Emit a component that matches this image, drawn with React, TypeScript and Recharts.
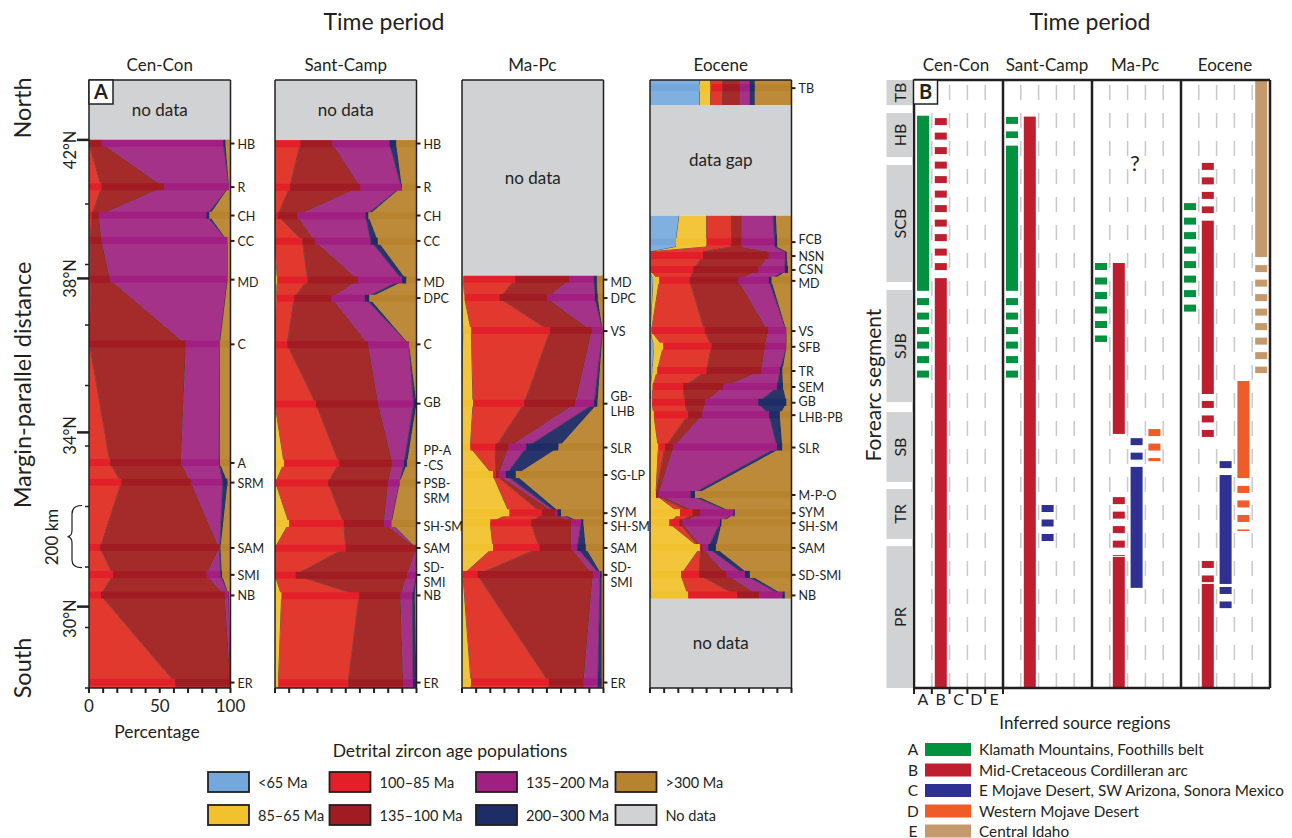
import React from 'react';
import { ComposedChart, Area, Bar, XAxis, YAxis, ReferenceArea, ReferenceLine } from 'recharts';

const FONT = 'Lato, "Open Sans", sans-serif';
const INK = '#231f20';
const GRAY = '#d1d2d4';

const KM_MAX = 2010;
const PLOT_TOP = 80;
const PLOT_BOTTOM = 688;
const CHART_H = 838;
const PX_PER_KM = (PLOT_BOTTOM - PLOT_TOP) / KM_MAX;

// detrital zircon age populations, stacked left to right
const ageLabels = ['<65 Ma', '85–65 Ma', '100–85 Ma', '135–100 Ma', '135–200 Ma', '200–300 Ma', '>300 Ma'];
const ageFill = ['#80b0df', '#f3c53b', '#e2392f', '#a52b2a', '#a43288', '#28356b', '#bd8a3a'];
const ageStripe = ['#74a8dd', '#f2c12e', '#e3202a', '#a11c22', '#a01f80', '#1f2d66', '#b8832f'];

const periods = ['Cen-Con', 'Sant-Camp', 'Ma-Pc', 'Eocene'];

// rows: site (blank = edge of record), km along margin from south end, % per age population
type Row = { site: string; km: number; v: number[] | null };

const cenConRows: Row[] = [
  { site: '', km: 1811, v: [0, 0, 0, 9, 86, 1.5, 3.5] },
  { site: 'HB', km: 1800, v: [0, 0, 0, 9, 86, 1.5, 3.5] },
  { site: 'R', km: 1656, v: [0, 0, 9, 44, 46, 0, 1] },
  { site: 'CH', km: 1562, v: [0, 0, 2, 5, 76, 2, 15] },
  { site: 'CC', km: 1478, v: [0, 0, 1, 8, 89, 0, 2] },
  { site: 'MD', km: 1350, v: [0, 0, 1, 14, 83, 0, 2] },
  { site: 'C', km: 1136, v: [0, 0, 0.5, 68, 24, 0, 7.5] },
  { site: 'A', km: 744, v: [0, 0, 15, 50, 27, 0.5, 7.5] },
  { site: 'SRM', km: 679, v: [0, 0, 23, 49, 22.5, 3.5, 2] },
  { site: 'SAM', km: 463, v: [0, 0, 8, 84, 0.5, 0.5, 7] },
  { site: 'SMI', km: 374, v: [0, 0, 17, 66, 10, 1, 6] },
  { site: 'NB', km: 306, v: [0, 0, 8.5, 87.5, 3, 0, 1] },
  { site: 'ER', km: 18, v: [0, 0, 61, 39, 0, 0, 0] },
  { site: '', km: 0, v: [0, 0, 61, 39, 0, 0, 0] },
];

const santCampRows: Row[] = [
  { site: '', km: 1811, v: [0, 0, 18, 22.5, 40.5, 4.7, 14.3] },
  { site: 'HB', km: 1800, v: [0, 0, 18, 22.5, 40.5, 4.7, 14.3] },
  { site: 'R', km: 1656, v: [0, 0, 10.5, 50, 28.7, 0.5, 10.3] },
  { site: 'CH', km: 1562, v: [0, 0, 2, 13.5, 48.5, 2, 34] },
  { site: 'CC', km: 1478, v: [0, 0, 19.5, 8.7, 39.5, 5, 27.3] },
  { site: 'MD', km: 1350, v: [0, 1.6, 21.5, 35.7, 31.1, 3, 7.1] },
  { site: 'DPC', km: 1289, v: [0, 1, 12.6, 26.4, 23.5, 3.1, 33.4] },
  { site: 'C', km: 1136, v: [0, 0, 8.7, 57.2, 28.9, 0, 5.2] },
  { site: 'GB', km: 940, v: [0, 0, 29, 44, 25, 2, 0] },
  { site: 'PP-A\n-CS', km: 744, v: [0, 6.4, 39, 37.6, 8.3, 2.1, 6.6] },
  { site: 'PSB-\nSRM', km: 679, v: [0, 0.5, 37.1, 42.4, 8.2, 0, 11.8] },
  { site: 'SH-SM', km: 545, v: [0, 10, 38.7, 28.3, 5.4, 0, 17.6] },
  { site: 'SAM', km: 463, v: [0, 0, 50, 50, 0, 0, 0] },
  { site: 'SD-\nSMI', km: 374, v: [0, 0, 14.6, 78.8, 6.6, 0, 0] },
  { site: 'NB', km: 306, v: [0, 4.7, 54.8, 29.2, 8.5, 1.6, 1.2] },
  { site: 'ER', km: 18, v: [0, 2.4, 49.4, 38.8, 7, 2.4, 0] },
  { site: '', km: 0, v: [0, 2.4, 49.4, 38.8, 7, 2.4, 0] },
];

const maPcRows: Row[] = [
  { site: '', km: 1360, v: [0, 1, 36.6, 38.4, 17.4, 1.9, 4.7] },
  { site: 'MD', km: 1350, v: [0, 1, 36.6, 38.4, 17.4, 1.9, 4.7] },
  { site: 'DPC', km: 1289, v: [0, 1.9, 24.7, 33.4, 34, 2, 4] },
  { site: 'VS', km: 1180, v: [1, 5.6, 55.8, 29.4, 7.7, 0, 0.5] },
  { site: 'GB-\nLHB', km: 940, v: [0, 7.8, 36.2, 36, 13.4, 2.4, 4.2] },
  { site: 'SLR', km: 795, v: [0, 5.9, 17.6, 9.4, 12.5, 22.8, 31.8] },
  { site: 'SG-LP', km: 704, v: [0, 21.9, 2.1, 1.9, 5.1, 7, 62] },
  { site: 'SYM', km: 578, v: [0, 33.6, 22.9, 9.4, 1.6, 2.5, 30] },
  { site: 'SH-SM', km: 545, v: [0, 20, 28.9, 28.3, 7, 1.7, 14.1] },
  { site: 'SAM', km: 463, v: [0, 21.9, 32.9, 22.4, 4.4, 5.9, 12.5] },
  { site: 'SD-\nSMI', km: 374, v: [0, 0.7, 10.3, 81.5, 5.1, 1.2, 1.2] },
  { site: 'ER', km: 18, v: [0, 6.4, 55.2, 24.3, 10.1, 2.8, 1.2] },
  { site: '', km: 0, v: [0, 6.4, 55.2, 24.3, 10.1, 2.8, 1.2] },
];

const eoceneRows: Row[] = [
  { site: '', km: 2010, v: [35.3, 7.5, 8.5, 12.2, 7.1, 3.5, 25.9] },
  { site: 'TB', km: 1983, v: [35.3, 7.5, 8.5, 12.2, 7.1, 3.5, 25.9] },
  { site: '', km: 1927, v: [35.3, 7.5, 8.5, 12.2, 7.1, 3.5, 25.9] },
  { site: '', km: 1750, v: null },
  { site: '', km: 1561, v: [20.7, 19.3, 17.6, 7.1, 22.3, 2, 11] },
  { site: 'FCB', km: 1474, v: [18.4, 21.6, 17.6, 7.1, 23.5, 1.8, 10] },
  { site: '', km: 1458, v: [18.4, 21.6, 17.6, 7.1, 23.5, 1.8, 10] },
  { site: '', km: 1442, v: [0.5, 0, 37, 46.4, 11.8, 1, 3.3] },
  { site: 'NSN', km: 1428, v: [0.5, 0, 37, 46.4, 11.8, 1, 3.3] },
  { site: 'CSN', km: 1382, v: [0, 0, 30.6, 45.9, 18.8, 2.3, 2.4] },
  { site: 'MD', km: 1346, v: [2.4, 4.2, 21.6, 34.2, 21.6, 1.9, 14.1] },
  { site: 'VS', km: 1180, v: [0.5, 0.5, 37.8, 44.7, 13, 0, 3.5] },
  { site: 'SFB', km: 1128, v: [2.8, 6.6, 34.1, 37.7, 15.3, 0, 3.5] },
  { site: 'TR', km: 1048, v: [1.9, 3.3, 34.8, 38.8, 13, 1.8, 6.4] },
  { site: 'SEM', km: 995, v: [0.5, 1.4, 21.6, 28.3, 38.1, 4.2, 5.9] },
  { site: 'GB', km: 943, v: [0.5, 1, 23.2, 14.1, 37.7, 20, 3.5] },
  { site: 'LHB-PB', km: 902, v: [0, 2.8, 24.2, 9.9, 47.3, 7.6, 8.2] },
  { site: 'SLR', km: 795, v: [0, 5.9, 4.7, 5.9, 73.4, 3.7, 6.4] },
  { site: 'M-P-O', km: 638, v: [0, 4.2, 0, 1.7, 22.8, 3.1, 68.2] },
  { site: 'SYM', km: 578, v: [0, 21.2, 8.9, 5.2, 23.5, 1.2, 40] },
  { site: 'SH-SM', km: 545, v: [0, 13.6, 7.1, 2.3, 26.4, 1.2, 49.4] },
  { site: 'SAM', km: 463, v: [0, 35.3, 0.5, 1.4, 4, 5.4, 53.4] },
  { site: 'SD-SMI', km: 374, v: [0, 21.9, 12.9, 19.3, 13, 3.5, 29.4] },
  { site: 'NB', km: 306, v: [1, 26, 34.6, 15.6, 16.4, 1.7, 4.7] },
  { site: '', km: 297.5, v: [1, 26, 34.6, 15.6, 16.4, 1.7, 4.7] },
];

type Blank = { from: number; to: number; text: string };
const cenConBlanks: Blank[] = [{ from: 1811, to: 2010, text: 'no data' }];
const santCampBlanks: Blank[] = [{ from: 1811, to: 2010, text: 'no data' }];
const maPcBlanks: Blank[] = [{ from: 1360, to: 2010, text: 'no data' }];
const eoceneBlanks: Blank[] = [
  { from: 1561, to: 1927, text: 'data gap' },
  { from: 0, to: 297.5, text: 'no data' },
];

// latitude marks on the distance axis
const latKm = [1812, 1354, 845, 269];
const latNames = ['42°N', '38°N', '34°N', '30°N'];
const minorKm = [0, 200, 400, 600, 800, 1000, 1200, 1400, 1600];
const pctTicks = [0, 10, 20, 30, 40, 50, 60, 70, 80, 90, 100];

// panel B: forearc segments
const segNames = ['TB', 'HB', 'SCB', 'SJB', 'SB', 'TR', 'PR'];
const segTopKm = [2010, 1901, 1729, 1316, 912, 658, 469];
const segBottomKm = [1927, 1755, 1342, 945, 681, 493, 0];

// inferred source regions
const sourceCodes = ['A', 'B', 'C', 'D', 'E'];
const sourceNames = [
  'Klamath Mountains, Foothills belt',
  'Mid-Cretaceous Cordilleran arc',
  'E Mojave Desert, SW Arizona, Sonora Mexico',
  'Western Mojave Desert',
  'Central Idaho',
];
const sourceColors = ['#00923f', '#be1e2d', '#2e3192', '#f15a29', '#c49a6c'];

// spans per period, per source: [top km, bottom km, style]
type Span = [number, number, 'solid' | 'dashed'];
const cenConSpans: Span[][] = [
  [[1892, 1313, 'solid'], [1289, 1025, 'dashed']],
  [[1884, 1380, 'dashed'], [1355, 0, 'solid']],
  [],
  [],
  [],
];
const santCampSpans: Span[][] = [
  [[1888, 1818, 'dashed'], [1793, 1313, 'solid'], [1289, 1025, 'dashed']],
  [[1889, 0, 'solid']],
  [[605, 486, 'dashed']],
  [],
  [],
];
const maPcSpans: Span[][] = [
  [[1405, 1144, 'dashed']],
  [[1405, 840, 'solid'], [631, 436, 'dashed'], [433, 0, 'solid']],
  [[826, 750, 'dashed'], [731, 331, 'solid']],
  [[856, 750, 'dashed']],
  [],
];
const eoceneSpans: Span[][] = [
  [[1603, 1243, 'dashed']],
  [[1736, 1570, 'dashed'], [1545, 972, 'solid'], [949, 830, 'dashed'], [420, 350, 'dashed'], [344, 0, 'solid']],
  [[750, 727, 'dashed'], [704, 344, 'solid'], [334, 264, 'dashed']],
  [[1015, 694, 'solid'], [668, 519, 'dashed']],
  [[2007, 1425, 'solid'], [1398, 1041, 'dashed']],
];

const PLOT_W = 141.5;
const panelLefts = [89, 275, 461.5, 650];

// small vertical nudges so crowded site names don't collide
function labelNudge(text: string) {
  if (text === 'SH-SM') return 3;
  if (text === 'SYM') return -1.5;
  if (text === 'FCB') return -3;
  if (text === 'CSN') return -0.5;
  if (text === 'MD') return 2;
  if (text === 'GB') return -1.5;
  if (text === 'LHB-PB') return 1.5;
  return 0;
}

function SiteTick(props: any) {
  const { x, y, payload, labels } = props;
  const text: string = labels.get(payload.value) ?? '';
  const lines = text.split('\n');
  let first = labelNudge(text);
  if (lines.length > 1) first = text === 'PP-A\n-CS' ? -13 : text === 'PSB-\nSRM' ? 0 : -8;
  return (
    <g>
      <line x1={x} x2={x + 4} y1={y} y2={y} stroke={INK} strokeWidth={2} />
      <text x={x + 7} y={y} fontSize={12.5} fill={INK} fontFamily={FONT} dominantBaseline="central">
        {lines.map((l, i) => (
          <tspan key={i} x={x + 7} dy={i === 0 ? first : 15}>{l}</tspan>
        ))}
      </text>
    </g>
  );
}

function LatTick(props: any) {
  const { x, y, payload } = props;
  const i = latKm.indexOf(payload.value);
  if (i < 0) return <line x1={x - 4} x2={x} y1={y} y2={y} stroke={INK} strokeWidth={1.5} />;
  const shift = [10, 0, 3, 12][i];
  return (
    <g>
      <line x1={x - 12} x2={x} y1={y} y2={y} stroke={INK} strokeWidth={2.5} />
      <text
        transform={`translate(${x - 19},${y + shift}) rotate(-90)`}
        textAnchor="middle"
        dominantBaseline="central"
        fontSize={16.5}
        fill={INK}
        fontFamily={FONT}
      >
        {latNames[i]}
      </text>
    </g>
  );
}

function ZirconPanel({ index, rows, blanks }: { index: number; rows: Row[]; blanks: Blank[] }) {
  const left = panelLefts[index] - 80;
  const width = 80 + PLOT_W + 70;
  const areaData = rows.map((r) => {
    const d: any = { km: r.km };
    ageLabels.forEach((_, i) => {
      d[`a${i}`] = r.v ? r.v[i] : null;
    });
    return d;
  });
  const sites = rows.filter((r) => r.site);
  const stripeData = sites.map((r) => {
    const d: any = { km: r.km };
    (r.v || []).forEach((val, i) => {
      d[`s${i}`] = val;
    });
    return d;
  });
  const labels = new Map(sites.map((r) => [r.km, r.site]));
  const first = index === 0;

  return (
    <>
      <div style={{ position: 'absolute', left, top: 0 }}>
        <ComposedChart
          layout="vertical"
          width={width}
          height={CHART_H}
          data={areaData}
          margin={{ top: PLOT_TOP, left: 80, right: 70, bottom: CHART_H - PLOT_BOTTOM }}
        >
          <XAxis hide type="number" domain={[0, 100]} allowDataOverflow />
          <YAxis hide type="number" dataKey="km" domain={[0, KM_MAX]} reversed allowDataOverflow />
          {blanks.map((b) => (
            <ReferenceArea
              key={b.from}
              y1={b.from}
              y2={b.to}
              x1={0}
              x2={100}
              fill={GRAY}
              fillOpacity={1}
              stroke="none"
              label={{ value: b.text, position: 'center', fill: INK, fontSize: 17, fontFamily: FONT }}
            />
          ))}
          {ageLabels.map((name, i) => (
            <Area
              key={name}
              name={name}
              dataKey={`a${i}`}
              stackId="a"
              type="linear"
              fill={ageFill[i]}
              fillOpacity={1}
              stroke="#3a3a3a"
              strokeWidth={0.8}
              dot={false}
              activeDot={false}
              isAnimationActive={false}
            />
          ))}
        </ComposedChart>
      </div>
      <div style={{ position: 'absolute', left, top: 0 }}>
        <ComposedChart
          layout="vertical"
          width={width}
          height={CHART_H}
          data={stripeData}
          margin={{ top: PLOT_TOP, left: 0, right: 0, bottom: 0 }}
        >
          <XAxis
            type="number"
            domain={[0, 100]}
            allowDataOverflow
            ticks={pctTicks}
            interval={0}
            height={CHART_H - PLOT_BOTTOM}
            tickSize={5}
            tickMargin={7}
            axisLine={{ stroke: INK, strokeWidth: 1.5 }}
            tickLine={{ stroke: INK, strokeWidth: 2 }}
            tick={{ fontSize: 17, fill: INK, fontFamily: FONT }}
            tickFormatter={(v) => (first && v % 50 === 0 ? String(v) : '')}
          />
          <YAxis
            yAxisId="lat"
            orientation="left"
            width={80}
            type="number"
            dataKey="km"
            domain={[0, KM_MAX]}
            reversed
            allowDataOverflow
            ticks={first ? [...minorKm, ...latKm] : undefined}
            interval={0}
            tickSize={0}
            tickMargin={0}
            tickLine={false}
            axisLine={{ stroke: INK, strokeWidth: 1.5 }}
            tick={first ? (p: any) => <LatTick {...p} /> : false}
          />
          <YAxis
            yAxisId="site"
            orientation="right"
            width={70}
            type="number"
            dataKey="km"
            domain={[0, KM_MAX]}
            reversed
            allowDataOverflow
            ticks={sites.map((r) => r.km)}
            interval={0}
            tickSize={0}
            tickMargin={0}
            tickLine={false}
            axisLine={{ stroke: INK, strokeWidth: 1.5 }}
            tick={(p: any) => <SiteTick {...p} labels={labels} />}
          />
          {ageLabels.map((name, i) => (
            <Bar
              key={name}
              yAxisId="site"
              dataKey={`s${i}`}
              stackId="s"
              fill={ageStripe[i]}
              barSize={7}
              isAnimationActive={false}
            />
          ))}
          <ReferenceLine yAxisId="site" y={KM_MAX} stroke={INK} strokeWidth={1.5} />
        </ComposedChart>
      </div>
    </>
  );
}

function SourceShape(props: any) {
  const { x, y, width, height, payload, level } = props;
  const style = payload[`t${level}`];
  const color = payload.color;
  if (!style || style === 'gap' || !(height > 0)) return <g />;
  if (style === 'solid') return <rect x={x} y={y} width={width} height={height} fill={color} />;
  const dashes = [];
  for (let yy = y; yy < y + height - 0.5; yy += 14.5) {
    dashes.push(<rect key={yy} x={x} y={yy} width={width} height={Math.min(7, y + height - yy)} fill={color} />);
  }
  return <g>{dashes}</g>;
}

function SegmentTick(props: any) {
  const { x, y, payload } = props;
  const i = segNames.findIndex((_, k) => (segTopKm[k] + segBottomKm[k]) / 2 === payload.value);
  if (i < 0) return <g />;
  const h = (segTopKm[i] - segBottomKm[i]) * PX_PER_KM;
  return (
    <g>
      <rect x={x - 27.5} y={y - h / 2} width={26} height={h} fill={GRAY} />
      <text
        transform={`translate(${x - 14.5},${y}) rotate(-90)`}
        textAnchor="middle"
        dominantBaseline="central"
        fontSize={16}
        fill={INK}
        fontFamily={FONT}
      >
        {segNames[i]}
      </text>
    </g>
  );
}

function SourceAxisTick(props: any) {
  const { x, y, payload } = props;
  const v = payload.value;
  if (Number.isInteger(v)) return <line x1={x} x2={x} y1={y} y2={y + 6} stroke={INK} strokeWidth={2} />;
  return (
    <text x={x} y={y + 17} textAnchor="middle" fontSize={16} fill={INK} fontFamily={FONT}>
      {sourceCodes[Math.floor(v)]}
    </text>
  );
}

function SourcePanel() {
  const periodSpans = [cenConSpans, santCampSpans, maPcSpans, eoceneSpans];
  const rows = periodSpans.flatMap((spans, p) =>
    spans.map((list, s) => {
      const row: any = { x: p * 5 + s + 0.5, color: sourceColors[s] };
      let level = 0;
      let cursor = 0;
      [...list]
        .sort((a, b) => a[1] - b[1])
        .forEach(([top, bottom, style]) => {
          row[`l${level}`] = bottom - cursor;
          row[`t${level}`] = 'gap';
          level++;
          row[`l${level}`] = top - bottom;
          row[`t${level}`] = style;
          level++;
          cursor = top;
        });
      return row;
    }),
  );
  const levels = [0, 1, 2, 3, 4, 5, 6, 7, 8, 9];
  const segMid = segNames.map((_, k) => (segTopKm[k] + segBottomKm[k]) / 2);
  const subLines = Array.from({ length: 19 }, (_, k) => k + 1).filter((k) => k % 5 !== 0);
  const periodLines = [5, 10, 15];
  return (
    <div style={{ position: 'absolute', left: 913.5 - 40, top: 0 }}>
      <ComposedChart
        width={408}
        height={CHART_H}
        data={rows}
        margin={{ top: PLOT_TOP, right: 12, left: 0, bottom: 0 }}
      >
        <XAxis
          type="number"
          dataKey="x"
          domain={[0, 20]}
          allowDataOverflow
          ticks={[0, 0.5, 1, 1.5, 2, 2.5, 3, 3.5, 4, 4.5, 5]}
          interval={0}
          height={CHART_H - PLOT_BOTTOM}
          tickSize={0}
          tickMargin={0}
          tickLine={false}
          axisLine={{ stroke: INK, strokeWidth: 2.5 }}
          tick={(p: any) => <SourceAxisTick {...p} />}
        />
        <YAxis
          type="number"
          domain={[0, KM_MAX]}
          allowDataOverflow
          ticks={segMid}
          interval={0}
          width={40}
          tickSize={0}
          tickMargin={0}
          tickLine={false}
          axisLine={{ stroke: INK, strokeWidth: 2.5 }}
          tick={(p: any) => <SegmentTick {...p} />}
        />
        {subLines.map((k) => (
          <ReferenceLine key={k} x={k} stroke="#c9c9c9" strokeWidth={1.5} strokeDasharray="15 13" />
        ))}
        {levels.map((k) => (
          <Bar
            key={k}
            dataKey={`l${k}`}
            stackId="b"
            barSize={12}
            isAnimationActive={false}
            shape={(p: any) => <SourceShape {...p} level={k} />}
          />
        ))}
        {periodLines.map((k) => (
          <ReferenceLine key={k} x={k} stroke={INK} strokeWidth={2.5} />
        ))}
        <ReferenceLine x={20} stroke={INK} strokeWidth={2.5} />
        <ReferenceLine y={KM_MAX} stroke={INK} strokeWidth={2.5} />
      </ComposedChart>
    </div>
  );
}

function Overlay() {
  const txt = { fill: INK, fontFamily: FONT } as const;
  const ageLegend = [...ageLabels, 'No data'];
  const ageLegendColors = [...ageStripe, GRAY];
  const legendX = [208, 329.5, 476, 615.5];
  const legendY = [772, 805];
  const bHeaders = [956, 1047, 1135, 1225];
  const srcY = [749.5, 770, 790.5, 811, 831];
  return (
    <svg width={1292} height={838} style={{ position: 'absolute', left: 0, top: 0, pointerEvents: 'none' }}>
      <text x={384} y={30} textAnchor="middle" fontSize={23} {...txt}>Time period</text>
      <text x={1090} y={30} textAnchor="middle" fontSize={23} {...txt}>Time period</text>
      {periods.map((p, i) => (
        <text key={p} x={panelLefts[i] + PLOT_W / 2} y={71} textAnchor="middle" fontSize={17} {...txt}>{p}</text>
      ))}
      {periods.map((p, i) => (
        <text key={p + 'b'} x={bHeaders[i]} y={71} textAnchor="middle" fontSize={17} {...txt}>{p}</text>
      ))}
      {[
        ['North', 108],
        ['Margin-parallel distance', 385],
        ['South', 668],
      ].map(([t, cy]) => (
        <text
          key={t as string}
          transform={`translate(22,${cy}) rotate(-90)`}
          textAnchor="middle"
          dominantBaseline="central"
          fontSize={23.5}
          {...txt}
        >
          {t}
        </text>
      ))}
      <text transform="translate(872,385) rotate(-90)" textAnchor="middle" dominantBaseline="central" fontSize={21} {...txt}>
        Forearc segment
      </text>
      <text transform="translate(51,537) rotate(-90)" textAnchor="middle" dominantBaseline="central" fontSize={17} {...txt}>
        200 km
      </text>
      <path
        d="M82,505.5 C75,505.5 72,508 72,514 L72,530 C72,534 70,536.5 67.5,536.7 C70,537 72,539.5 72,543 L72,560 C72,565.5 75,567.7 82,567.7"
        fill="none"
        stroke={INK}
        strokeWidth={1.2}
      />
      <text x={157} y={738} textAnchor="middle" fontSize={17.5} {...txt}>Percentage</text>

      <rect x={89} y={80} width={24} height={24} fill="#fff" stroke={INK} strokeWidth={1.5} />
      <text x={101} y={99} textAnchor="middle" fontSize={20} fontWeight={700} {...txt}>A</text>
      <rect x={913.5} y={80} width={24} height={24} fill="#fff" stroke={INK} strokeWidth={1.5} />
      <text x={925.5} y={99} textAnchor="middle" fontSize={20} fontWeight={700} {...txt}>B</text>
      <text x={1135} y={171} textAnchor="middle" fontSize={22} {...txt}>?</text>

      <text x={450} y={757} textAnchor="middle" fontSize={17.5} {...txt}>Detrital zircon age populations</text>
      {ageLegend.map((name, i) => {
        const col = Math.floor(i / 2);
        const row = i % 2;
        return (
          <g key={name}>
            <rect x={legendX[col]} y={legendY[row]} width={41} height={20} fill={ageLegendColors[i]} stroke={INK} strokeWidth={1.8} />
            <text x={legendX[col] + 50} y={legendY[row] + 15.5} fontSize={14.5} {...txt}>{name}</text>
          </g>
        );
      })}

      <text x={1085} y={729} textAnchor="middle" fontSize={17} {...txt}>Inferred source regions</text>
      {sourceNames.map((name, i) => (
        <g key={name}>
          <text x={913} y={srcY[i] + 5.5} textAnchor="middle" fontSize={15.5} {...txt}>{sourceCodes[i]}</text>
          <rect x={925} y={srcY[i] - 6.5} width={46} height={13} fill={sourceColors[i]} />
          <text x={979} y={srcY[i] + 5.5} fontSize={15.3} {...txt}>{name}</text>
        </g>
      ))}
    </svg>
  );
}

export default function App() {
  return (
    <div style={{ position: 'absolute', left: 0, top: 0, width: 1292, height: 838, background: '#fff', fontFamily: FONT, overflow: 'hidden' }}>
      <ZirconPanel index={0} rows={cenConRows} blanks={cenConBlanks} />
      <ZirconPanel index={1} rows={santCampRows} blanks={santCampBlanks} />
      <ZirconPanel index={2} rows={maPcRows} blanks={maPcBlanks} />
      <ZirconPanel index={3} rows={eoceneRows} blanks={eoceneBlanks} />
      <SourcePanel />
      <Overlay />
    </div>
  );
}
